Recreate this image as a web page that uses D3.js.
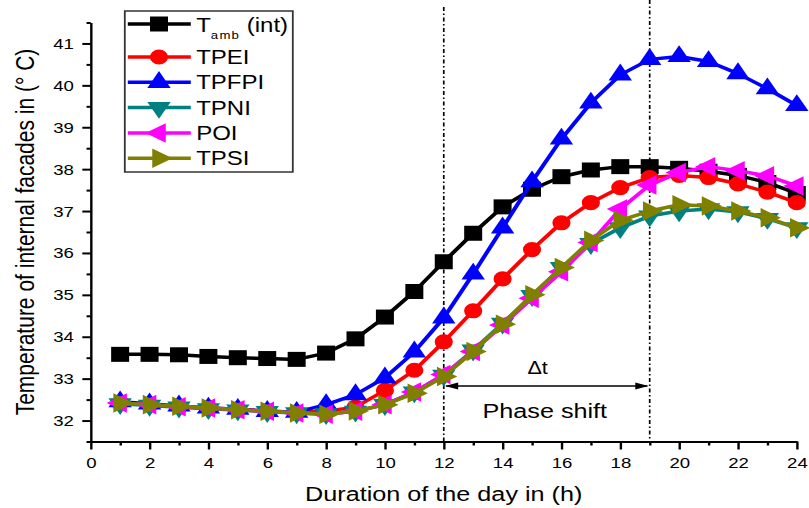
<!DOCTYPE html>
<html>
<head>
<meta charset="utf-8">
<script src="https://cdn.jsdelivr.net/npm/d3@7"></script>
<style>
  body { margin: 0; background: #fff; }
  svg { display: block; font-family: "Liberation Sans", Arial, sans-serif; }
</style>
</head>
<body>
<svg id="canvas"></svg>
<script>
// hours of the day
var hours = d3.range(1, 25);

// temperatures (deg C)
var tamb  = [33.58, 33.58, 33.57, 33.53, 33.50, 33.48, 33.46, 33.61, 33.95, 34.47, 35.08, 35.79, 36.47, 37.10, 37.52, 37.82, 37.98, 38.06, 38.06, 38.02, 37.95, 37.85, 37.68, 37.42];
var tpei  = [32.42, 32.38, 32.33, 32.30, 32.27, 32.23, 32.20, 32.22, 32.32, 32.72, 33.20, 33.88, 34.62, 35.38, 36.08, 36.72, 37.20, 37.56, 37.80, 37.85, 37.80, 37.65, 37.45, 37.20];
var tpfpi = [32.45, 32.40, 32.35, 32.30, 32.27, 32.22, 32.20, 32.38, 32.62, 33.02, 33.64, 34.45, 35.50, 36.60, 37.70, 38.72, 39.58, 40.25, 40.62, 40.69, 40.57, 40.28, 39.92, 39.52];
var tpni  = [32.40, 32.36, 32.32, 32.28, 32.25, 32.21, 32.18, 32.16, 32.22, 32.38, 32.68, 33.08, 33.68, 34.32, 34.98, 35.65, 36.22, 36.60, 36.88, 37.00, 37.05, 36.98, 36.82, 36.60];
var poi   = [32.42, 32.38, 32.33, 32.30, 32.26, 32.22, 32.18, 32.15, 32.22, 32.38, 32.68, 33.10, 33.65, 34.28, 34.92, 35.55, 36.25, 37.05, 37.62, 37.92, 38.06, 37.96, 37.84, 37.60];
var tpsi  = [32.42, 32.38, 32.34, 32.30, 32.26, 32.22, 32.18, 32.15, 32.23, 32.38, 32.65, 33.05, 33.65, 34.30, 35.00, 35.65, 36.30, 36.78, 37.00, 37.15, 37.12, 37.00, 36.84, 36.60];

var seriesNames = ["Tamb", "TPEI", "TPFPI", "TPNI", "POI", "TPSI"];
var seriesValues = [tamb, tpei, tpfpi, tpni, poi, tpsi];
var seriesColors = ["#000000", "#ff0000", "#0000ff", "#008080", "#ff00ff", "#808000"];
var seriesShapes = ["square", "circle", "up", "down", "left", "right"];

var xTicks = d3.range(0, 25, 2);
var xMinor = d3.range(1, 24, 2);
var yTicks = d3.range(32, 42, 1);
var yMinor = d3.range(31.5, 42, 1);

// phase shift markers (hours)
var phaseStart = 12, phaseEnd = 19;

// the original figure is stretched horizontally, so draw in a narrower box and stretch it
var W = 809, H = 508, stretch = 1.2;
var VW = W / stretch;

var svg = d3.select("#canvas")
    .attr("width", W)
    .attr("height", H)
    .attr("viewBox", "0 0 " + VW + " " + H)
    .attr("preserveAspectRatio", "none");

var x = d3.scaleLinear().domain([0, 24]).range([75.6, 664]);
var y = d3.scaleLinear().domain([31.5, 41.5]).range([441.5, 22.5]);

// axes
svg.append("g")
    .attr("transform", "translate(0," + y(31.5) + ")")
    .call(d3.axisBottom(x).tickValues(xTicks).tickSize(8).tickSizeOuter(0).tickPadding(7));
svg.append("g")
    .attr("transform", "translate(0," + y(31.5) + ")")
    .call(d3.axisBottom(x).tickValues(xMinor).tickSize(4).tickFormat(""))
    .select(".domain").remove();

svg.append("g")
    .attr("transform", "translate(" + x(0) + ",0)")
    .call(d3.axisLeft(y).tickValues(yTicks).tickSize(7).tickSizeOuter(0).tickPadding(7));
svg.append("g")
    .attr("transform", "translate(" + x(0) + ",0)")
    .call(d3.axisLeft(y).tickValues(yMinor).tickSize(3.5).tickFormat(""))
    .select(".domain").remove();

svg.selectAll(".domain, .tick line").attr("stroke", "#000").attr("stroke-width", 2);
svg.selectAll(".tick text").attr("fill", "#000").style("font-size", "15.5px")
    .style("font-family", "'Liberation Sans', Arial, sans-serif");

// axis titles
svg.append("text")
    .attr("x", x(12))
    .attr("y", 501)
    .attr("text-anchor", "middle")
    .style("font-size", "21px")
    .text("Duration of the day in (h)");

svg.append("text")
    .attr("transform", "translate(21,232) rotate(-90)")
    .attr("text-anchor", "middle")
    .attr("dy", "0.35em")
    .style("font-size", "21px")
    .text("Temperature of internal facades in (° C)");

// phase shift annotation
[phaseStart, phaseEnd].forEach(function(h, i) {
    svg.append("line")
        .attr("x1", x(h)).attr("x2", x(h))
        .attr("y1", i === 0 ? 7 : 0).attr("y2", y(31.5))
        .attr("stroke", "#000")
        .attr("stroke-width", 1.4)
        .attr("stroke-dasharray", "4,2.5,1.5,2.5");
});

var arrowY = 386;
svg.append("line")
    .attr("x1", x(phaseStart) + 2).attr("x2", x(phaseEnd) - 2)
    .attr("y1", arrowY).attr("y2", arrowY)
    .attr("stroke", "#000").attr("stroke-width", 1.3);
svg.append("path")
    .attr("d", "M" + (x(phaseStart) + 1) + "," + arrowY + "l11,-3.5l0,7z")
    .attr("fill", "#000");
svg.append("path")
    .attr("d", "M" + (x(phaseEnd) - 1) + "," + arrowY + "l-11,-3.5l0,7z")
    .attr("fill", "#000");

svg.append("text")
    .attr("x", 448).attr("y", 374)
    .attr("text-anchor", "middle")
    .style("font-size", "18px")
    .text("\u0394t");
svg.append("text")
    .attr("x", 454).attr("y", 418)
    .attr("text-anchor", "middle")
    .style("font-size", "21px")
    .text("Phase shift");

// markers
function marker(shape) {
    if (shape === "square") return { path: d3.symbol(d3.symbolSquare, 225)(), rot: 0 };
    if (shape === "circle") return { path: d3.symbol(d3.symbolCircle, 180)(), rot: 0 };
    var rot = { up: 0, down: 180, left: -90, right: 90 }[shape];
    return { path: d3.symbol(d3.symbolTriangle, 165)(), rot: rot };
}

var line = d3.line()
    .x(function(d) { return x(d.h); })
    .y(function(d) { return y(d.v); });

seriesValues.forEach(function(vals, s) {
    var pts = hours.map(function(h, i) { return { h: h, v: vals[i] }; });
    var g = svg.append("g");
    g.append("path")
        .datum(pts)
        .attr("d", line)
        .attr("fill", "none")
        .attr("stroke", seriesColors[s])
        .attr("stroke-width", 3.5)
        .attr("stroke-linejoin", "round");
    var m = marker(seriesShapes[s]);
    g.selectAll("path.pt")
        .data(pts)
        .enter()
        .append("path")
        .attr("class", "pt")
        .attr("d", m.path)
        .attr("transform", function(d) {
            return "translate(" + x(d.h) + "," + y(d.v) + ") rotate(" + m.rot + ")";
        })
        .attr("fill", seriesColors[s]);
});

// legend
var legend = svg.append("g");
legend.append("rect")
    .attr("x", 104).attr("y", 11)
    .attr("width", 140).attr("height", 161)
    .attr("fill", "#fff")
    .attr("stroke", "#333")
    .attr("stroke-width", 1.5);

seriesNames.forEach(function(name, i) {
    var ly = i === 0 ? 24 : 57 + (i - 1) * 25.3;
    legend.append("line")
        .attr("x1", 106.5).attr("x2", 159)
        .attr("y1", ly).attr("y2", ly)
        .attr("stroke", seriesColors[i])
        .attr("stroke-width", 3.5);
    var m = marker(seriesShapes[i]);
    legend.append("path")
        .attr("d", m.path)
        .attr("transform", "translate(132.5," + ly + ") rotate(" + m.rot + ")")
        .attr("fill", seriesColors[i]);
    var t = legend.append("text")
        .attr("x", 163.5)
        .attr("y", ly)
        .attr("dy", "0.35em")
        .style("font-size", "20px");
    if (i === 0) {
        t.attr("dy", null).attr("y", ly + 8);
        t.append("tspan").text("T");
        t.append("tspan").attr("dy", 7).style("font-size", "11px").attr("letter-spacing", "1").text("amb");
        t.append("tspan").attr("dy", -7).text(" (int)");
    } else {
        t.text(name);
    }
});
</script>
</body>
</html>
